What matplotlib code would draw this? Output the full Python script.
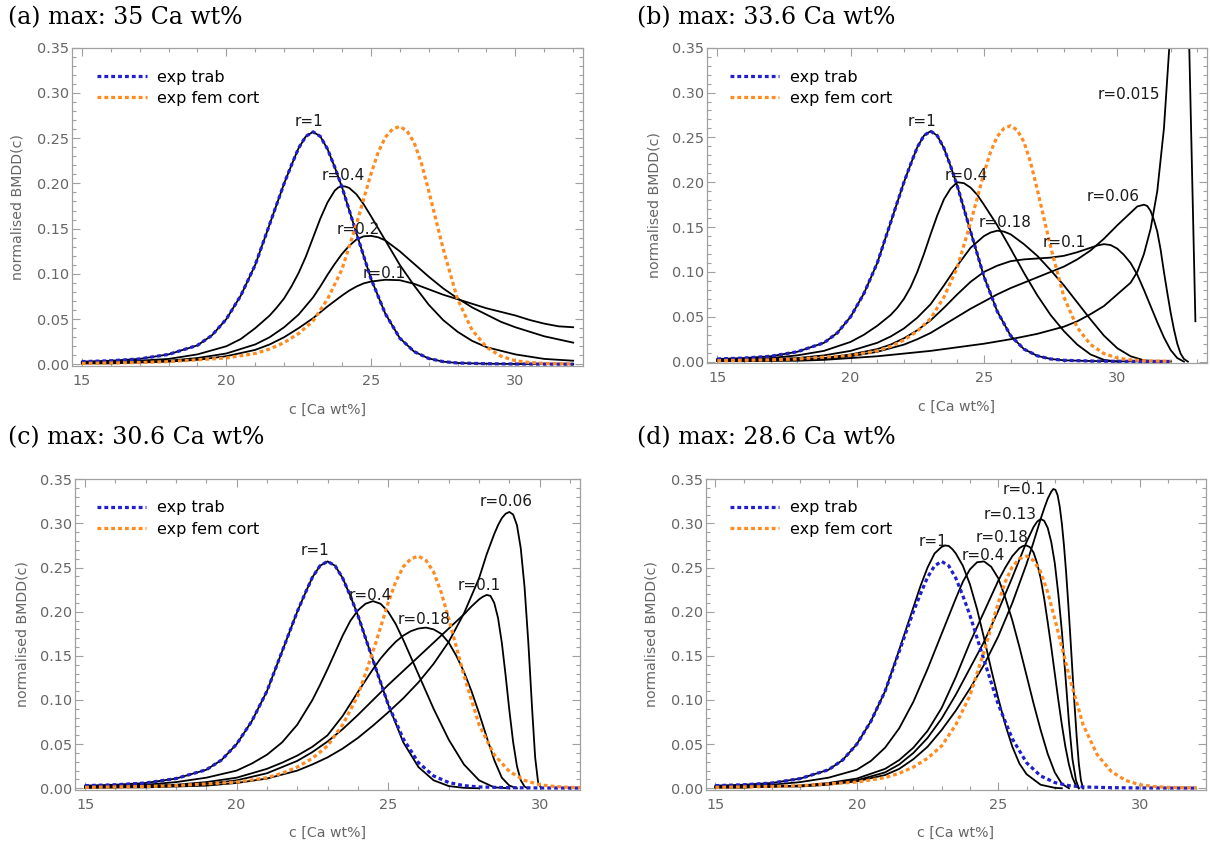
import matplotlib
matplotlib.use("Agg")
import matplotlib.pyplot as plt
from matplotlib.ticker import MultipleLocator, FormatStrFormatter

# ---------------- data ----------------
# experimental curves (same in every panel)
exp_trab_x = [15, 16, 17, 18, 19, 19.5, 20, 20.5, 21, 21.5, 22, 22.25, 22.5, 22.75, 23, 23.25,
              23.5, 23.75, 24, 24.5, 25, 25.5, 26, 26.5, 27, 27.5, 28, 29, 30, 31, 32]
exp_trab_y = [0.003, 0.004, 0.006, 0.011, 0.021, 0.032, 0.05, 0.076, 0.11, 0.155, 0.2, 0.22,
              0.239, 0.252, 0.257, 0.252, 0.238, 0.218, 0.196, 0.145, 0.095, 0.056, 0.029,
              0.014, 0.0065, 0.003, 0.0015, 0.0007, 0.0004, 0.0003, 0.0002]
exp_fem_x = [15, 16, 17, 18, 19, 20, 21, 21.5, 22, 22.5, 23, 23.5, 24, 24.5, 25, 25.25, 25.5,
             25.75, 26, 26.25, 26.5, 26.75, 27, 27.5, 28, 28.5, 29, 29.5, 30, 30.5, 31, 32]
exp_fem_y = [0.001, 0.0015, 0.002, 0.003, 0.005, 0.007, 0.012, 0.017, 0.024, 0.034, 0.048,
             0.072, 0.105, 0.155, 0.21, 0.234, 0.251, 0.26, 0.263, 0.258, 0.245, 0.222, 0.192,
             0.128, 0.072, 0.038, 0.019, 0.009, 0.004, 0.002, 0.001, 0.0005]

# (a) max 35
a_r04_x = [15, 16, 17, 18, 19, 20, 20.5, 21, 21.5, 21.75, 22, 22.25, 22.5, 22.75, 23, 23.25,
           23.5, 23.75, 23.875, 24, 24.125, 24.25, 24.5, 24.75, 25, 25.5, 26, 26.5, 27, 27.5,
           28, 28.5, 29, 30, 31, 32]
a_r04_y = [0.002, 0.003, 0.004, 0.006, 0.011, 0.02, 0.028, 0.04, 0.054, 0.063, 0.073, 0.086,
           0.101, 0.119, 0.14, 0.161, 0.179, 0.192, 0.1955, 0.197, 0.1965, 0.195, 0.188, 0.177,
           0.164, 0.137, 0.11, 0.087, 0.066, 0.049, 0.036, 0.026, 0.019, 0.011, 0.006, 0.004]
a_r02_x = [15, 16, 17, 18, 19, 20, 21, 21.5, 22, 22.5, 23, 23.25, 23.5, 23.75, 24, 24.25, 24.5,
           24.75, 25, 25.25, 25.5, 26, 26.5, 27, 27.5, 28, 28.5, 29, 29.5, 30, 31, 32]
a_r02_y = [0.001, 0.002, 0.003, 0.004, 0.007, 0.012, 0.022, 0.03, 0.041, 0.055, 0.074, 0.086,
           0.099, 0.111, 0.122, 0.131, 0.138, 0.1415, 0.142, 0.1405, 0.137, 0.125, 0.111,
           0.097, 0.084, 0.073, 0.063, 0.055, 0.047, 0.041, 0.031, 0.024]
a_r01_x = [15, 16, 17, 18, 19, 20, 21, 21.5, 22, 22.5, 23, 23.5, 24, 24.25, 24.5, 24.75, 25,
           25.5, 26, 26.5, 27, 27.5, 28, 28.5, 29, 29.5, 30, 30.5, 31, 31.5, 32]
a_r01_y = [0.001, 0.001, 0.002, 0.003, 0.005, 0.009, 0.016, 0.022, 0.03, 0.04, 0.051, 0.064,
           0.076, 0.0815, 0.086, 0.0895, 0.0915, 0.0935, 0.093, 0.089, 0.083, 0.077, 0.072,
           0.067, 0.062, 0.058, 0.054, 0.049, 0.045, 0.042, 0.041]

# (b) max 33.6
b_r04_x = [15, 16, 17, 18, 19, 20, 20.5, 21, 21.5, 21.75, 22, 22.25, 22.5, 22.75, 23, 23.25,
           23.5, 23.75, 24, 24.25, 24.5, 24.75, 25, 25.5, 26, 26.5, 27, 27.5, 28, 28.5, 29,
           29.5, 30]
b_r04_y = [0.002, 0.003, 0.004, 0.007, 0.012, 0.022, 0.03, 0.04, 0.052, 0.06, 0.07, 0.083, 0.1,
           0.12, 0.142, 0.163, 0.181, 0.193, 0.2, 0.199, 0.194, 0.186, 0.175, 0.152, 0.126,
           0.099, 0.074, 0.052, 0.034, 0.019, 0.008, 0.002, 0.0]
b_r018_x = [15, 16, 17, 18, 19, 20, 21, 21.5, 22, 22.5, 23, 23.5, 24, 24.5, 25, 25.25, 25.5,
            25.75, 26, 26.5, 27, 27.5, 28, 28.5, 29, 29.5, 30, 30.5, 31, 31.5]
b_r018_y = [0.001, 0.002, 0.003, 0.004, 0.007, 0.012, 0.021, 0.028, 0.037, 0.049, 0.064, 0.085,
            0.107, 0.127, 0.14, 0.144, 0.146, 0.145, 0.142, 0.131, 0.118, 0.102, 0.085, 0.066,
            0.047, 0.029, 0.015, 0.006, 0.0015, 0.0]
b_r01_x = [15, 16, 17, 18, 19, 20, 21, 21.5, 22, 22.5, 23, 23.5, 24, 24.5, 25, 25.5, 26, 26.5,
           27, 27.5, 28, 28.5, 29, 29.25, 29.5, 29.75, 30, 30.25, 30.5, 30.75, 31, 31.25, 31.5,
           31.75, 32, 32.25, 32.5]
b_r01_y = [0.001, 0.001, 0.002, 0.002, 0.004, 0.008, 0.014, 0.019, 0.026, 0.035, 0.046, 0.06,
           0.075, 0.089, 0.1, 0.107, 0.112, 0.114, 0.115, 0.116, 0.118, 0.122, 0.127, 0.1295,
           0.131, 0.13, 0.126, 0.119, 0.11, 0.097, 0.08, 0.062, 0.044, 0.027, 0.013, 0.004, 0.0]
b_r006_x = [15, 16, 17, 18, 19, 20, 21, 22, 22.5, 23, 23.5, 24, 24.5, 25, 25.5, 26, 26.5, 27,
            27.5, 28, 28.5, 29, 29.5, 30, 30.5, 30.75, 31, 31.125, 31.25, 31.375, 31.5, 31.625,
            31.75, 31.875, 32, 32.125, 32.25, 32.375, 32.5, 32.65]
b_r006_y = [0.001, 0.001, 0.001, 0.002, 0.003, 0.006, 0.011, 0.019, 0.025, 0.032, 0.041, 0.05,
            0.059, 0.067, 0.075, 0.082, 0.088, 0.094, 0.1, 0.106, 0.114, 0.124, 0.137, 0.152,
            0.166, 0.173, 0.175, 0.1735, 0.168, 0.158, 0.145, 0.125, 0.1, 0.077, 0.055, 0.036,
            0.02, 0.009, 0.003, 0.0]
b_r0015_x = [15, 16, 17, 18, 19, 20, 21, 22, 23, 24, 25, 26, 27, 28, 28.5, 29, 29.5, 30, 30.5,
             30.75, 31, 31.25, 31.5, 31.75, 31.95, 32.05, 32.4, 32.68, 32.7, 32.93]
b_r0015_y = [0.0005, 0.0005, 0.001, 0.001, 0.002, 0.004, 0.006, 0.009, 0.012, 0.016, 0.02, 0.025,
             0.031, 0.039, 0.045, 0.053, 0.062, 0.075, 0.088, 0.1, 0.12, 0.148, 0.19, 0.26, 0.35,
             0.4, 0.8, 0.4, 0.35, 0.045]

# (c) max 30.6
c_r1_x = [15, 16, 17, 18, 19, 19.5, 20, 20.5, 21, 21.5, 22, 22.25, 22.5, 22.75, 23, 23.25, 23.5,
          23.75, 24, 24.5, 25, 25.5, 26, 26.5, 27, 27.5, 28]
c_r1_y = [0.003, 0.004, 0.006, 0.011, 0.021, 0.032, 0.05, 0.076, 0.11, 0.155, 0.2, 0.22, 0.239,
          0.252, 0.257, 0.252, 0.238, 0.218, 0.196, 0.145, 0.095, 0.052, 0.024, 0.009, 0.0025,
          0.0005, 0.0]
c_r04_x = [15, 16, 17, 18, 19, 20, 20.5, 21, 21.5, 22, 22.5, 22.75, 23, 23.25, 23.5, 23.75, 24,
           24.25, 24.5, 24.75, 25, 25.25, 25.5, 26, 26.5, 27, 27.5, 28, 28.5, 29]
c_r04_y = [0.002, 0.003, 0.004, 0.007, 0.012, 0.02, 0.028, 0.038, 0.052, 0.072, 0.1, 0.117,
           0.135, 0.154, 0.173, 0.1895, 0.2015, 0.209, 0.212, 0.209, 0.2, 0.186, 0.168, 0.129,
           0.09, 0.055, 0.027, 0.009, 0.001, 0.0]
c_r018_x = [15, 16, 17, 18, 19, 20, 21, 21.5, 22, 22.5, 23, 23.5, 24, 24.5, 24.75, 25, 25.25,
            25.5, 25.75, 26, 26.25, 26.5, 26.75, 27, 27.25, 27.5, 27.75, 28, 28.25, 28.5, 28.75,
            29, 29.25]
c_r018_y = [0.001, 0.002, 0.003, 0.004, 0.007, 0.012, 0.022, 0.029, 0.037, 0.047, 0.06, 0.082,
            0.109, 0.135, 0.147, 0.157, 0.166, 0.173, 0.178, 0.181, 0.182, 0.18, 0.175, 0.165,
            0.15, 0.132, 0.11, 0.085, 0.058, 0.032, 0.012, 0.003, 0.0]
c_r01_x = [15, 16, 17, 18, 19, 20, 21, 22, 22.5, 23, 23.5, 24, 24.5, 25, 25.5, 26, 26.5, 27,
           27.5, 27.75, 28, 28.125, 28.25, 28.375, 28.5, 28.625, 28.75, 28.875, 29, 29.125,
           29.25, 29.375, 29.5, 29.6]
c_r01_y = [0.001, 0.001, 0.002, 0.003, 0.005, 0.009, 0.017, 0.031, 0.041, 0.053, 0.067, 0.083,
           0.1, 0.117, 0.133, 0.149, 0.165, 0.181, 0.197, 0.206, 0.214, 0.217, 0.219, 0.218,
           0.21, 0.193, 0.165, 0.128, 0.088, 0.052, 0.025, 0.009, 0.002, 0.0]
c_r006_x = [15, 16, 17, 18, 19, 20, 21, 22, 22.5, 23, 23.5, 24, 24.5, 25, 25.5, 26, 26.5, 27,
            27.5, 28, 28.25, 28.5, 28.625, 28.75, 28.875, 29, 29.125, 29.25, 29.375, 29.5,
            29.625, 29.75, 29.85, 29.95, 30.05]
c_r006_y = [0.0005, 0.001, 0.001, 0.002, 0.003, 0.006, 0.011, 0.02, 0.027, 0.035, 0.045, 0.057,
            0.071, 0.086, 0.102, 0.12, 0.141, 0.166, 0.198, 0.238, 0.265, 0.288, 0.298, 0.306,
            0.311, 0.313, 0.31, 0.298, 0.272, 0.228, 0.165, 0.09, 0.035, 0.006, 0.0]

# (d) max 28.6
d_r1_x = [15, 16, 17, 18, 19, 19.5, 20, 20.5, 21, 21.5, 22, 22.25, 22.5, 22.75, 23, 23.125,
          23.25, 23.375, 23.5, 23.75, 24, 24.25, 24.5, 24.75, 25, 25.25, 25.5, 25.75, 26, 26.5,
          27, 27.25]
d_r1_y = [0.003, 0.004, 0.006, 0.011, 0.021, 0.032, 0.05, 0.076, 0.11, 0.157, 0.205, 0.229,
          0.25, 0.266, 0.2735, 0.275, 0.2745, 0.271, 0.266, 0.252, 0.231, 0.203, 0.17, 0.135,
          0.102, 0.072, 0.047, 0.028, 0.016, 0.004, 0.0005, 0.0]
d_r04_x = [15, 16, 17, 18, 19, 20, 20.5, 21, 21.5, 22, 22.5, 23, 23.5, 23.75, 24, 24.25, 24.5,
           24.75, 25, 25.25, 25.5, 25.75, 26, 26.25, 26.5, 26.75, 27, 27.25, 27.5]
d_r04_y = [0.002, 0.003, 0.004, 0.007, 0.012, 0.021, 0.031, 0.046, 0.068, 0.098, 0.135, 0.175,
           0.215, 0.234, 0.248, 0.256, 0.257, 0.251, 0.238, 0.216, 0.19, 0.16, 0.128, 0.096,
           0.066, 0.039, 0.018, 0.005, 0.0]
d_r018_x = [15, 16, 17, 18, 19, 20, 21, 21.5, 22, 22.5, 23, 23.5, 24, 24.5, 25, 25.25, 25.5,
            25.75, 25.875, 26, 26.125, 26.25, 26.375, 26.5, 26.625, 26.75, 26.875, 27, 27.125,
            27.25, 27.375, 27.5, 27.625, 27.75, 27.85]
d_r018_y = [0.001, 0.001, 0.002, 0.003, 0.006, 0.011, 0.022, 0.032, 0.046, 0.065, 0.091, 0.126,
            0.165, 0.2, 0.235, 0.25, 0.263, 0.272, 0.2745, 0.275, 0.273, 0.267, 0.255, 0.238,
            0.215, 0.188, 0.16, 0.13, 0.1, 0.072, 0.047, 0.027, 0.012, 0.003, 0.0]
d_r013_x = [15, 16, 17, 18, 19, 20, 21, 21.5, 22, 22.5, 23, 23.5, 24, 24.5, 25, 25.5, 25.75, 26,
            26.25, 26.375, 26.5, 26.625, 26.75, 26.875, 27, 27.125, 27.25, 27.375, 27.5, 27.625,
            27.75, 27.85]
d_r013_y = [0.001, 0.001, 0.002, 0.003, 0.005, 0.009, 0.018, 0.027, 0.04, 0.057, 0.079, 0.106,
            0.136, 0.166, 0.201, 0.239, 0.259, 0.279, 0.296, 0.302, 0.305, 0.303, 0.295, 0.279,
            0.255, 0.22, 0.178, 0.128, 0.075, 0.033, 0.009, 0.0]
d_r01_x = [15, 16, 17, 18, 19, 20, 21, 21.5, 22, 22.5, 23, 23.5, 24, 24.5, 25, 25.5, 26, 26.25,
           26.5, 26.625, 26.75, 26.875, 26.95, 27.025, 27.1, 27.175, 27.25, 27.325, 27.4,
           27.475, 27.55, 27.625, 27.7, 27.775, 27.85, 27.925, 28.0]
d_r01_y = [0.001, 0.001, 0.002, 0.002, 0.004, 0.008, 0.015, 0.022, 0.033, 0.047, 0.066, 0.088,
           0.113, 0.14, 0.172, 0.21, 0.254, 0.279, 0.305, 0.317, 0.328, 0.336, 0.339, 0.338,
           0.332, 0.319, 0.3, 0.275, 0.245, 0.21, 0.172, 0.132, 0.094, 0.058, 0.028, 0.009, 0.0]

panel_titles = ["(a) max: 35 Ca wt%", "(b) max: 33.6 Ca wt%",
                "(c) max: 30.6 Ca wt%", "(d) max: 28.6 Ca wt%"]
legend_labels = ["exp trab", "exp fem cort"]
x_label = "c [Ca wt%]"
y_label = "normalised BMDD(c)"

# ---------------- styling / layout ----------------
W, H = 1211, 847
fig = plt.figure(figsize=(W / 100, H / 100), dpi=100)

BLUE = "#1e1ed2"
ORANGE = "#ff8a1e"
FRAME = "#a0a0a0"
TICKLAB = "#666666"

# axes frames in pixels: left, top, right, bottom
frames = [(72, 47.7, 583, 365.7), (706.6, 47.7, 1206.6, 363.0),
          (74.8, 479.3, 580, 789.6), (705.8, 479.3, 1205.8, 789.6)]
xlims = [(14.66, 32.34), (14.6, 33.35), (14.66, 31.33), (14.66, 32.34)]
title_pos = [(8, 17.5), (637, 17.5), (8, 438), (637, 438)]
ylab_x = [17.4, 654.3, 23.0, 651.2]
xlab_y = [410, 407, 833, 833]
leg_anchor = [(97, 69.7), (729.8, 69.7), (96.9, 500.3), (729.8, 500.3)]

panel_curves = [
    [(exp_trab_x, exp_trab_y), (a_r04_x, a_r04_y), (a_r02_x, a_r02_y), (a_r01_x, a_r01_y)],
    [(exp_trab_x, exp_trab_y), (b_r04_x, b_r04_y), (b_r018_x, b_r018_y), (b_r01_x, b_r01_y),
     (b_r006_x, b_r006_y), (b_r0015_x, b_r0015_y)],
    [(c_r1_x, c_r1_y), (c_r04_x, c_r04_y), (c_r018_x, c_r018_y), (c_r01_x, c_r01_y),
     (c_r006_x, c_r006_y)],
    [(d_r1_x, d_r1_y), (d_r04_x, d_r04_y), (d_r018_x, d_r018_y), (d_r013_x, d_r013_y),
     (d_r01_x, d_r01_y)],
]
panel_labels = [
    [("r=1", 22.87, 0.268), ("r=0.4", 24.06, 0.2085), ("r=0.2", 24.55, 0.1485),
     ("r=0.1", 25.47, 0.100)],
    [("r=1", 22.66, 0.268), ("r=0.4", 24.33, 0.207), ("r=0.18", 25.78, 0.155),
     ("r=0.1", 28.0, 0.133), ("r=0.06", 29.85, 0.184), ("r=0.015", 30.44, 0.298)],
    [("r=1", 22.6, 0.269), ("r=0.4", 24.4, 0.218), ("r=0.18", 26.19, 0.191),
     ("r=0.1", 27.99, 0.23), ("r=0.06", 28.88, 0.325)],
    [("r=1", 22.71, 0.279), ("r=0.4", 24.47, 0.264), ("r=0.18", 25.15, 0.284),
     ("r=0.13", 25.43, 0.31), ("r=0.1", 25.93, 0.339)],
]

for i in range(4):
    l, t, r, b = frames[i]
    ax = fig.add_axes([l / W, 1 - b / H, (r - l) / W, (b - t) / H])
    for xs, ys in panel_curves[i]:
        ax.plot(xs, ys, color="black", lw=1.3, solid_joinstyle="round", zorder=2)
    ax.plot(exp_trab_x, exp_trab_y, color=BLUE, lw=2.3, ls=(0, (1.2, 0.95)),
            label=legend_labels[0], zorder=3)
    ax.plot(exp_fem_x, exp_fem_y, color=ORANGE, lw=2.3, ls=(0, (1.2, 0.95)),
            label=legend_labels[1], zorder=3)
    for txt, tx, ty in panel_labels[i]:
        ax.text(tx, ty, txt, ha="center", va="center", fontsize=11, color="#1a1a1a",
                zorder=4)

    ax.set_xlim(*xlims[i])
    ax.set_ylim(-0.0015, 0.35)
    ax.xaxis.set_major_locator(MultipleLocator(5))
    ax.xaxis.set_minor_locator(MultipleLocator(1))
    ax.yaxis.set_major_locator(MultipleLocator(0.05))
    ax.yaxis.set_minor_locator(MultipleLocator(0.01))
    ax.yaxis.set_major_formatter(FormatStrFormatter("%.2f"))
    ax.tick_params(which="both", direction="in", top=True, right=True, color=FRAME,
                   width=0.8)
    ax.tick_params(which="major", length=5.5, labelsize=10.4, labelcolor=TICKLAB)
    ax.tick_params(which="minor", length=3)
    ax.tick_params(axis="x", which="major", pad=6.0)
    ax.tick_params(axis="y", which="major", pad=2.0)
    for s in ax.spines.values():
        s.set_color(FRAME)
        s.set_linewidth(0.9)

    lx, ly = leg_anchor[i]
    ax.legend(loc="upper left", bbox_to_anchor=((lx - l) / (r - l), 1 - (ly - t) / (b - t)),
              frameon=False, fontsize=11.5, handlelength=3.1, handletextpad=0.68,
              labelspacing=0.4, borderpad=0, borderaxespad=0)

    tx, ty = title_pos[i]
    fig.text(tx / W, 1 - ty / H, panel_titles[i], fontfamily="DejaVu Serif", fontsize=17,
             ha="left", va="center", color="black")
    fig.text(ylab_x[i] / W, 1 - ((t + b) / 2) / H, y_label, rotation=90, ha="center",
             va="center", fontsize=10.2, color=TICKLAB)
    fig.text(((l + r) / 2) / W, 1 - xlab_y[i] / H, x_label, ha="center", va="center",
             fontsize=10.2, color=TICKLAB)

fig.savefig("out.png", dpi=100, facecolor="white")
